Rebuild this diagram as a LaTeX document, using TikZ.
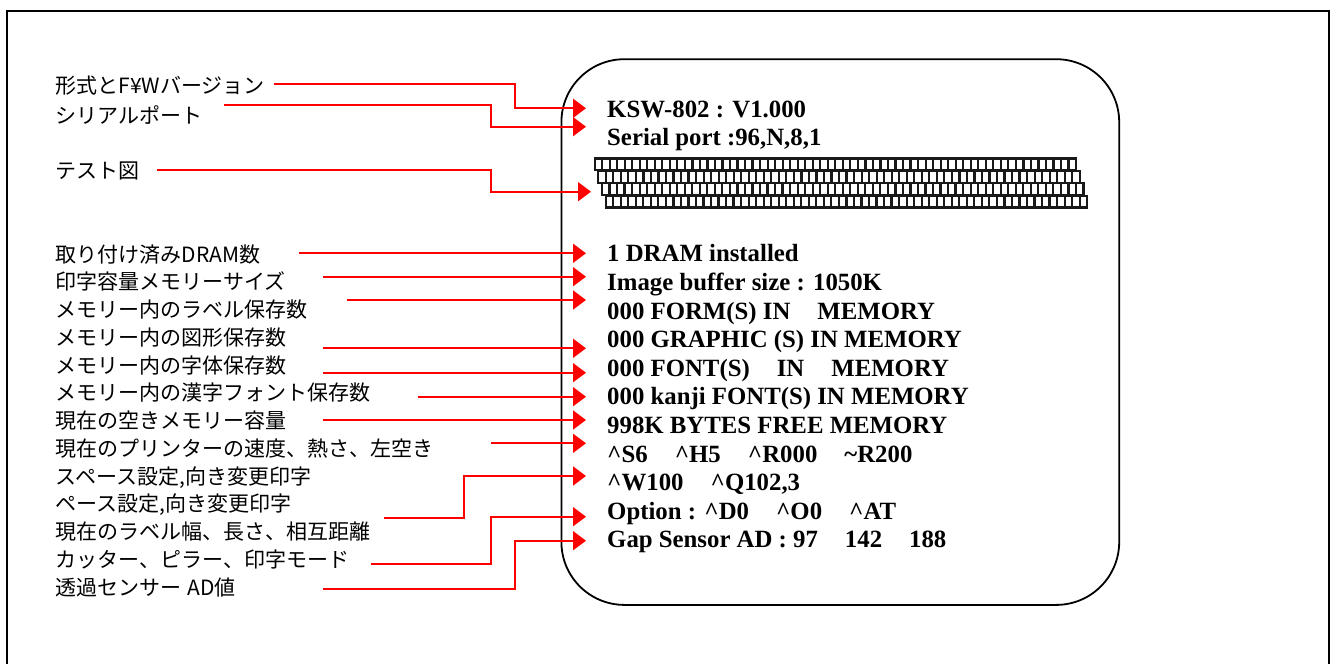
\documentclass[tikz,border=0pt]{standalone}
\usepackage{fontspec}
\newfontfamily\cjk{Noto Sans CJK JP}
\newfontfamily\prfont{Liberation Serif}
\usetikzlibrary{arrows.meta}
\definecolor{arrred}{RGB}{255,0,0}
\newcommand{\gp}{\hspace*{27pt}}
\tikzset{
  lbl/.style={anchor=base west, inner sep=0pt, font=\cjk\fontsize{21}{24}\selectfont},
  outtxt/.style={anchor=base west, inner sep=0pt, font=\prfont\bfseries\fontsize{24.8}{28}\selectfont},
  conn/.style={draw=arrred, line width=1.8pt, -{Triangle[length=13pt,width=19pt]}},
  cellline/.style={draw=black!90, line width=2.2pt}
}
\begin{document}
\begin{tikzpicture}[x=1pt,y=-1pt]
\useasboundingbox (0,0) rectangle (1331,664);
% outer frame (no bottom edge)
\draw[line width=2.2pt, line join=miter] (7,670) -- (7,11) -- (1329,11) -- (1329,670);
% printout outline
\node[draw, line width=1.8pt, rounded corners=63pt, minimum width=557.8pt, minimum height=545.7pt, anchor=north west, inner sep=0pt] (screen) at (560.5,58.3) {};
% left labels
\node[lbl] (l1) at (55.5,93.8) {形式とF¥Wバージョン};
\node[lbl] (l2) at (55.5,123) {シリアルポート};
\node[lbl] (l3) at (55.5,178.5) {テスト図};
\node[lbl] (l4) at (55.5,262) {取り付け済みDRAM数};
\node[lbl] (l5) at (55.5,289.75) {印字容量メモリーサイズ};
\node[lbl] (l6) at (55.5,317.5) {メモリー内のラベル保存数};
\node[lbl] (l7) at (55.5,345.25) {メモリー内の図形保存数};
\node[lbl] (l8) at (55.5,373) {メモリー内の字体保存数};
\node[lbl] (l9) at (55.5,400.75) {メモリー内の漢字フォント保存数};
\node[lbl] (l10) at (55.5,428.5) {現在の空きメモリー容量};
\node[lbl] (l11) at (55.5,456.25) {現在のプリンターの速度、熱さ、左空き};
\node[lbl] (l12) at (55.5,484) {スペース設定,向き変更印字};
\node[lbl] (l13) at (55.5,511.75) {ペース設定,向き変更印字};
\node[lbl] (l14) at (55.5,539.5) {現在のラベル幅、長さ、相互距離};
\node[lbl] (l15) at (55.5,567.25) {カッター、ピラー、印字モード};
\node[lbl] (l16) at (55.5,595) {透過センサー\hspace{6pt}AD値};
% right printout text
\node[outtxt] (t1) at (607,117.3) {KSW-802 : V1.000};
\node[outtxt] (t2) at (607,145) {Serial port :96,N,8,1};
\node[outtxt] (t3) at (607,261.7) {1 DRAM installed};
\node[outtxt] (t4) at (607,290.3) {Image buffer size : 1050K};
\node[outtxt] (t5) at (607,319) {000 FORM(S) IN\gp MEMORY};
\node[outtxt] (t6) at (607,347.6) {000 GRAPHIC (S) IN MEMORY};
\node[outtxt] (t7) at (607,376.2) {000 FONT(S)\gp IN\gp MEMORY};
\node[outtxt] (t8) at (607,404.8) {000 kanji FONT(S) IN MEMORY};
\node[outtxt] (t9) at (607,433.4) {998K BYTES FREE MEMORY};
\node[outtxt] (t10) at (607,462) {\textasciicircum S6\gp\textasciicircum H5\gp\textasciicircum R000\gp\textasciitilde R200};
\node[outtxt] (t11) at (607,490.6) {\textasciicircum W100\gp\textasciicircum Q102,3};
\node[outtxt] (t12) at (607,519.2) {Option : \textasciicircum D0\gp\textasciicircum O0\gp\textasciicircum AT};
\node[outtxt] (t13) at (607,547.8) {Gap Sensor AD : 97\gp 142\gp 188};
% test pattern
\foreach \r in {0,...,3}{
  \pgfmathsetmacro\xo{594.6+3.7*\r}
  \pgfmathsetmacro\yo{158.5+12.4*\r}
  \draw[cellline] (\xo,\yo) rectangle ({\xo+481.5},{\yo+11.8});
  \foreach \k in {1,...,63}{
    \draw[cellline] ({\xo+\k*7.523},\yo) -- ({\xo+\k*7.523},{\yo+11.8});
  }
}
% connector points
\coordinate (s1) at (274,84.3);   \coordinate (m1) at (514.7,108.3); \coordinate (e1) at (586,108.3);
\coordinate (s2) at (224,105);    \coordinate (m2) at (491,126.7);   \coordinate (e2) at (586,126.7);
\coordinate (s3) at (157,170);    \coordinate (m3) at (491,191.7);   \coordinate (e3) at (591,191.7);
\coordinate (s4) at (298.5,253.3); \coordinate (e4) at (586,253.3);
\coordinate (s5) at (322.6,276.7); \coordinate (e5) at (586,276.7);
\coordinate (s6) at (347,300);     \coordinate (e6) at (586,300);
\coordinate (s7) at (322.6,348.3); \coordinate (e7) at (586,348.3);
\coordinate (s8) at (322.6,372.7); \coordinate (e8) at (586,372.7);
\coordinate (s9) at (418,396.7);   \coordinate (e9) at (586,396.7);
\coordinate (s10) at (322.6,420);  \coordinate (e10) at (586,420);
\coordinate (s11) at (491,443.3);  \coordinate (e11) at (586,443.3);
\coordinate (s12) at (384,518.3);  \coordinate (m12) at (464,476);   \coordinate (e12) at (586,476);
\coordinate (s13) at (370.5,564.3); \coordinate (m13) at (491,516.7); \coordinate (e13) at (586,516.7);
\coordinate (s14) at (322.6,589);  \coordinate (m14) at (514.7,540.7); \coordinate (e14) at (586,540.7);
% connectors
\draw[conn] (s1) -| (m1) -- (e1);
\draw[conn] (s2) -| (m2) -- (e2);
\draw[conn] (s3) -| (m3) -- (e3);
\draw[conn] (s4) -- (e4);
\draw[conn] (s5) -- (e5);
\draw[conn] (s6) -- (e6);
\draw[conn] (s7) -- (e7);
\draw[conn] (s8) -- (e8);
\draw[conn] (s9) -- (e9);
\draw[conn] (s10) -- (e10);
\draw[conn] (s11) -- (e11);
\draw[conn] (s12) -| (m12) -- (e12);
\draw[conn] (s13) -| (m13) -- (e13);
\draw[conn] (s14) -| (m14) -- (e14);
\end{tikzpicture}
\end{document}
